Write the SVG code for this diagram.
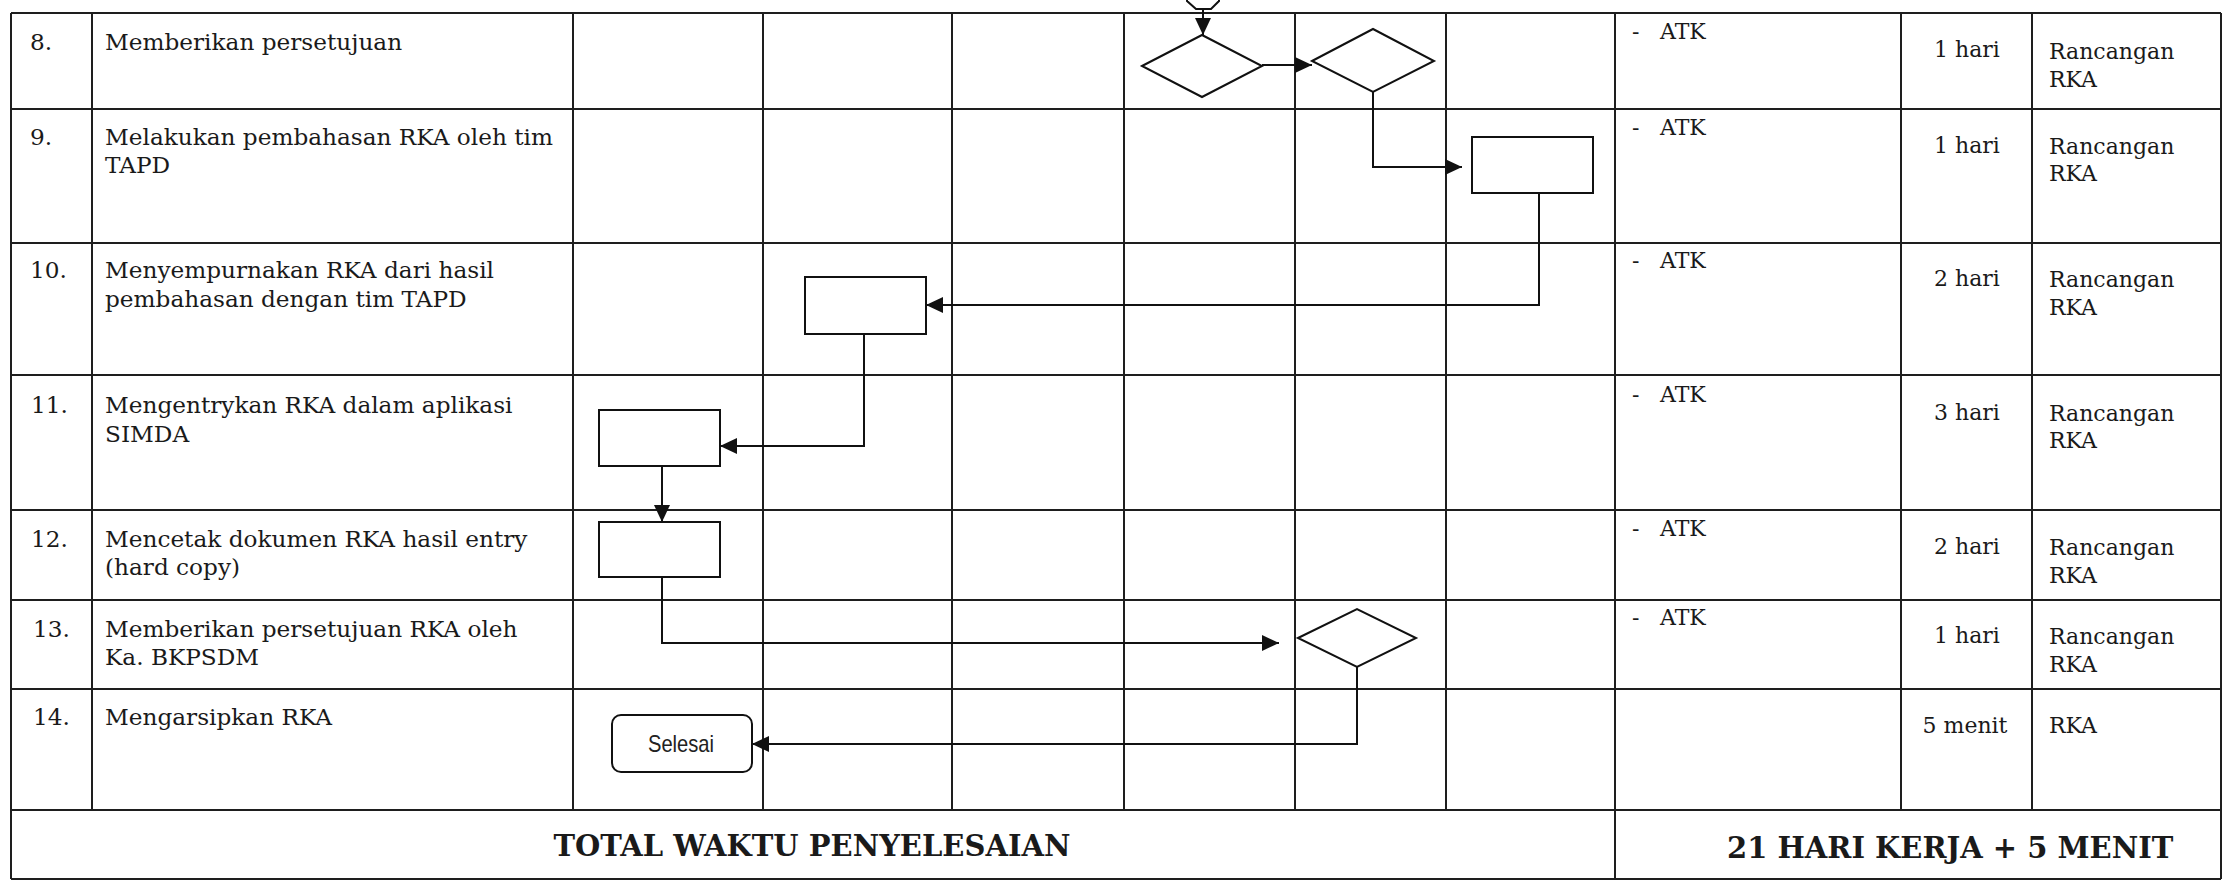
<svg xmlns="http://www.w3.org/2000/svg" width="2226" height="885" viewBox="0 0 2226 885">
<style>
.grid{stroke:#1e1e1e;stroke-width:2;fill:none}
.shape{fill:#fff;stroke:#111;stroke-width:2}
.conn{fill:none;stroke:#111;stroke-width:2}
.t{font-family:"DejaVu Serif","Liberation Serif",serif;font-size:22px;fill:#1a1a1a}
.l{font-size:23.2px}
.b{font-family:"DejaVu Serif","Liberation Serif",serif;font-size:29px;font-weight:bold;fill:#1a1a1a}
.s{font-family:"Liberation Sans",Arial,sans-serif;font-size:24px;fill:#222}
.c{text-anchor:middle}
</style>
<defs>
<marker id="ah" markerUnits="userSpaceOnUse" markerWidth="17" markerHeight="16" refX="17" refY="8" orient="auto">
<path d="M0,0 L17,8 L0,16 z" fill="#111"/>
</marker>
</defs>
<rect width="2226" height="885" fill="#fff"/>
<g id="table" class="grid">
<path d="M11,13 H2221 M11,109 H2221 M11,243 H2221 M11,375 H2221 M11,510 H2221 M11,600 H2221 M11,689 H2221 M11,810 H2221 M11,879 H2221"/>
<path d="M11,13 V879 M2221,13 V879 M1615,13 V879 M92,13 V810 M573,13 V810 M763,13 V810 M952,13 V810 M1124,13 V810 M1295,13 V810 M1446,13 V810 M1901,13 V810 M2032,13 V810"/>
</g>
<g id="texts">
<text class="t l" x="30" y="50">8.</text>
<text class="t l" x="105" y="50">Memberikan persetujuan</text>
<text class="t l" x="30" y="145">9.</text>
<text class="t l" x="105" y="145">Melakukan pembahasan RKA oleh tim</text>
<text class="t l" x="105" y="173">TAPD</text>
<text class="t l" x="30" y="278">10.</text>
<text class="t l" x="105" y="278">Menyempurnakan RKA dari hasil</text>
<text class="t l" x="105" y="307">pembahasan dengan tim TAPD</text>
<text class="t l" x="31" y="413">11.</text>
<text class="t l" x="105" y="413">Mengentrykan RKA dalam aplikasi</text>
<text class="t l" x="105" y="442">SIMDA</text>
<text class="t l" x="31" y="547">12.</text>
<text class="t l" x="105" y="547">Mencetak dokumen RKA hasil entry</text>
<text class="t l" x="105" y="575">(hard copy)</text>
<text class="t l" x="33" y="637">13.</text>
<text class="t l" x="105" y="637">Memberikan persetujuan RKA oleh</text>
<text class="t l" x="105" y="665">Ka. BKPSDM</text>
<text class="t l" x="33" y="725">14.</text>
<text class="t l" x="105" y="725">Mengarsipkan RKA</text>

<text class="t" y="39"><tspan x="1632">- </tspan><tspan x="1660">ATK</tspan></text>
<text class="t c" x="1967" y="57">1 hari</text>
<text class="t" x="2049" y="59">Rancangan</text>
<text class="t" x="2049" y="87">RKA</text>

<text class="t" y="135"><tspan x="1632">- </tspan><tspan x="1660">ATK</tspan></text>
<text class="t c" x="1967" y="153">1 hari</text>
<text class="t" x="2049" y="154">Rancangan</text>
<text class="t" x="2049" y="181">RKA</text>

<text class="t" y="268"><tspan x="1632">- </tspan><tspan x="1660">ATK</tspan></text>
<text class="t c" x="1967" y="286">2 hari</text>
<text class="t" x="2049" y="287">Rancangan</text>
<text class="t" x="2049" y="315">RKA</text>

<text class="t" y="402"><tspan x="1632">- </tspan><tspan x="1660">ATK</tspan></text>
<text class="t c" x="1967" y="420">3 hari</text>
<text class="t" x="2049" y="421">Rancangan</text>
<text class="t" x="2049" y="448">RKA</text>

<text class="t" y="536"><tspan x="1632">- </tspan><tspan x="1660">ATK</tspan></text>
<text class="t c" x="1967" y="554">2 hari</text>
<text class="t" x="2049" y="555">Rancangan</text>
<text class="t" x="2049" y="583">RKA</text>

<text class="t" y="625"><tspan x="1632">- </tspan><tspan x="1660">ATK</tspan></text>
<text class="t c" x="1967" y="643">1 hari</text>
<text class="t" x="2049" y="644">Rancangan</text>
<text class="t" x="2049" y="672">RKA</text>

<text class="t c" x="1965" y="733">5 menit</text>
<text class="t" x="2049" y="733">RKA</text>

<text class="b c" x="812" y="856">TOTAL WAKTU PENYELESAIAN</text>
<text class="b" x="1727" y="858">21 HARI KERJA + 5 MENIT</text>
</g>
<g id="connectors">
<path class="conn" d="M1203,8 V35" marker-end="url(#ah)"/>
<path class="conn" d="M1262,65 H1312" marker-end="url(#ah)"/>
<path class="conn" d="M1373,92 V167 H1462" marker-end="url(#ah)"/>
<path class="conn" d="M1539,193 V305 H926" marker-end="url(#ah)"/>
<path class="conn" d="M864,334 V446 H720" marker-end="url(#ah)"/>
<path class="conn" d="M662,466 V522" marker-end="url(#ah)"/>
<path class="conn" d="M662,577 V643 H1279" marker-end="url(#ah)"/>
<path class="conn" d="M1357,667 V744 H752" marker-end="url(#ah)"/>
</g>
<g id="offpage"><path class="shape" d="M1187,-2 V1 L1196,9 H1211 L1219,1 V-2"/></g>
<g id="d1"><polygon class="shape" points="1142,66 1202,35 1262,66 1202,97"/></g>
<g id="d2"><polygon class="shape" points="1312,61 1373,29 1434,61 1373,92"/></g>
<g id="box9"><rect class="shape" x="1472" y="137" width="121" height="56"/></g>
<g id="box10"><rect class="shape" x="805" y="277" width="121" height="57"/></g>
<g id="box11"><rect class="shape" x="599" y="410" width="121" height="56"/></g>
<g id="box12"><rect class="shape" x="599" y="522" width="121" height="55"/></g>
<g id="d13"><polygon class="shape" points="1298,638 1357,609 1416,638 1357,667"/></g>
<g id="selesai"><rect class="shape" x="612" y="715" width="140" height="57" rx="9"/><text class="s c" x="681" y="752" textLength="66" lengthAdjust="spacingAndGlyphs">Selesai</text></g>
</svg>
